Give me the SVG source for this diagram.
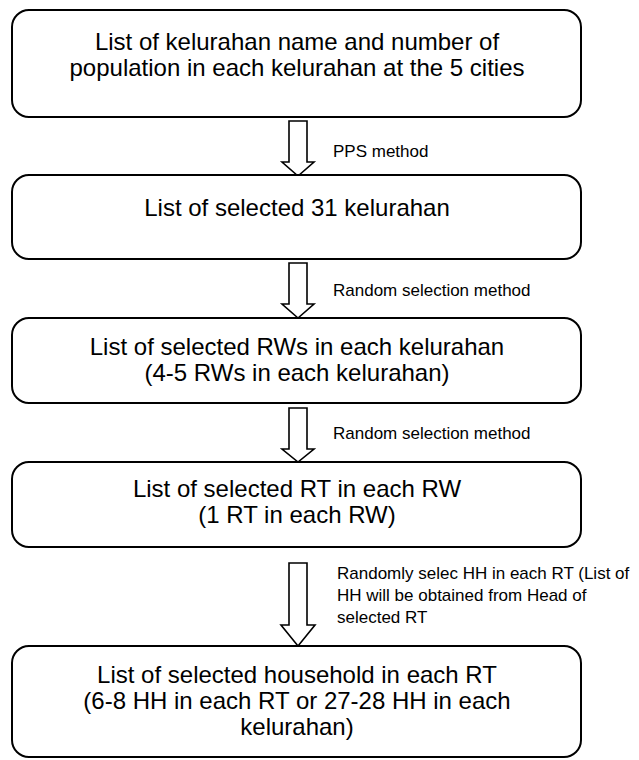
<svg xmlns="http://www.w3.org/2000/svg" width="639" height="760" viewBox="0 0 639 760">
<defs>
<style>
.box{fill:#fff;stroke:#000;stroke-width:2}
.arr{fill:#fff;stroke:#000;stroke-width:1.6;stroke-linejoin:miter}
.t{font-family:"Liberation Sans",Arial,sans-serif;font-size:24px;fill:#000;text-anchor:middle}
.l{font-family:"Liberation Sans",Arial,sans-serif;font-size:17px;fill:#000}
</style>
</defs>
<rect width="639" height="760" fill="#fff"/>
<g id="connectors">
<path class="arr" d="M289,121 V162 H282 L298,176 L314,162 H307 V121 Z"/>
<path class="arr" d="M289,263 V304 H282 L298,318 L314,304 H307 V263 Z"/>
<path class="arr" d="M289,408 V449 H282 L298,462 L314,449 H307 V408 Z"/>
<path class="arr" d="M289,563 V625 H281 L298,646 L315,625 H307 V563 Z"/>
<text class="l" x="333" y="157">PPS method</text>
<text class="l" x="333" y="296">Random selection method</text>
<text class="l" x="333" y="439">Random selection method</text>
<text class="l" x="337" y="579">Randomly selec HH in each RT (List of</text>
<text class="l" x="337" y="601">HH will be obtained from Head of</text>
<text class="l" x="337" y="623">selected RT</text>
</g>
<g id="node1">
<rect class="box" x="12" y="10" width="569" height="107" rx="17"/>
<text class="t" x="297" y="50">List of kelurahan name and number of</text>
<text class="t" x="297" y="76">population in each kelurahan at the 5 cities</text>
</g>
<g id="node2">
<rect class="box" x="12" y="175" width="569" height="84" rx="17"/>
<text class="t" x="297" y="216">List of selected 31 kelurahan</text>
</g>
<g id="node3">
<rect class="box" x="12" y="318" width="569" height="85" rx="17"/>
<text class="t" x="297" y="355">List of selected RWs in each kelurahan</text>
<text class="t" x="297" y="381">(4-5 RWs in each kelurahan)</text>
</g>
<g id="node4">
<rect class="box" x="12" y="462" width="569" height="85" rx="17"/>
<text class="t" x="297" y="497">List of selected RT in each RW</text>
<text class="t" x="297" y="523">(1 RT in each RW)</text>
</g>
<g id="node5">
<rect class="box" x="12" y="646" width="569" height="111" rx="17"/>
<text class="t" x="297" y="683">List of selected household in each RT</text>
<text class="t" x="297" y="709">(6-8 HH in each RT or 27-28 HH in each</text>
<text class="t" x="297" y="735">kelurahan)</text>
</g>
</svg>
